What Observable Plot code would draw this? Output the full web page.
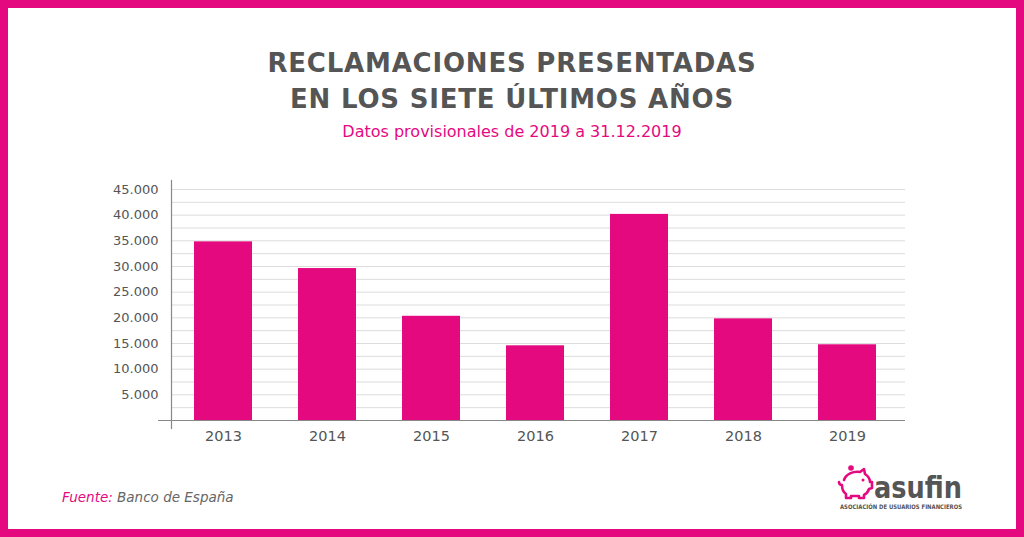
<!DOCTYPE html>
<html>
<head>
<meta charset="utf-8">
<script src="https://cdn.jsdelivr.net/npm/d3@7"></script>
<script src="https://cdn.jsdelivr.net/npm/@observablehq/plot@0.6"></script>
<style>
  html, body { margin: 0; padding: 0; background: #fff; }
  #page { position: relative; width: 1024px; height: 537px; box-sizing: border-box; border: 8px solid #e5097f; background: #fff; overflow: hidden; font-family: "DejaVu Sans", sans-serif; }
  .abs { position: absolute; }
  #title { left: 0; width: 1008px; top: 37px; text-align: center; color: #555; font-weight: bold; font-size: 26px; letter-spacing: 0.8px; line-height: 36px; }
  #subtitle { left: 0; width: 1008px; top: 114px; text-align: center; color: #e5097f; font-size: 16px; }
  #chart { left: -8px; top: 157px; width: 1024px; }
  #chart svg { max-width: none; }
  #source { left: 54px; top: 481px; font-style: italic; font-size: 13.5px; color: #666; }
  #source span { color: #e5097f; }
  #logo { left: 822px; top: 452px; width: 150px; height: 60px; overflow: visible; }
</style>
</head>
<body>
<div id="page">
  <div id="title" class="abs">RECLAMACIONES PRESENTADAS<br>EN LOS SIETE ÚLTIMOS AÑOS</div>
  <div id="subtitle" class="abs">Datos provisionales de 2019 a 31.12.2019</div>
  <div id="chart" class="abs"></div>
  <div id="source" class="abs"><span>Fuente:</span> Banco de España</div>
  <svg id="logo" class="abs" viewBox="0 0 150 60" width="150" height="60">
    <g fill="none" stroke="#e5097f" stroke-width="2.6" stroke-linejoin="round" stroke-linecap="round">
      <path d="M14,20 C16,14 23,11 30,12 L34,9 L35,14 C38,16 40,19 40,22 L42,22 L42,28 L39,29 C38,32 36,34 34,35 L34,38 L29,38 L29,36 L21,36 L21,38 L16,38 L16,34 C13,32 12,29 12,25 C10,25 9,24 9,22"/>
    </g>
    <circle cx="21" cy="8" r="2.8" fill="#e5097f"/>
    <circle cx="33" cy="20" r="1.5" fill="#e5097f"/>
    <text x="44" y="38" font-family="'DejaVu Sans', sans-serif" font-weight="bold" font-size="30" fill="#555" textLength="88" lengthAdjust="spacingAndGlyphs">asufin</text>
    <text x="10" y="49" font-family="'DejaVu Sans Condensed', 'DejaVu Sans', sans-serif" font-weight="bold" font-size="6.2" fill="#555" textLength="122" lengthAdjust="spacingAndGlyphs">ASOCIACIÓN DE USUARIOS FINANCIEROS</text>
  </svg>
</div>
<script>
const years = ["2013", "2014", "2015", "2016", "2017", "2018", "2019"];
const reclamaciones = [34800, 29600, 20300, 14550, 40150, 19800, 14750];
const yLabelTicks = [5000, 10000, 15000, 20000, 25000, 30000, 35000, 40000, 45000];
const gridTicks = [0, 2500, 5000, 7500, 10000, 12500, 15000, 17500, 20000, 22500, 25000, 27500, 30000, 32500, 35000, 37500, 40000, 42500, 45000];

const data = years.map((y, i) => ({year: y, value: reclamaciones[i]}));
const fmt = d => d3.format(",")(d).replace(/,/g, ".");

// SVG placed at page y = 165
const top0 = 165;
const plot = Plot.plot({
  width: 1024,
  height: 290,
  marginTop: 180 - top0,
  marginBottom: 290 - (428 - top0),
  marginLeft: 171,
  marginRight: 1024 - 905,
  style: { fontFamily: "'DejaVu Sans', sans-serif", fontSize: "12.5px", color: "#555", background: "transparent" },
  x: { domain: years, range: [171, 899], paddingInner: 0.44, paddingOuter: 0.22, label: null },
  y: { domain: [0, 45000], range: [420 - top0, 189 - top0], label: null },
  marks: [
    Plot.gridY(gridTicks, { stroke: "#dcdcdc", strokeOpacity: 1 }),
    Plot.barY(data, { x: "year", y: "value", fill: "#e5097f" }),
    Plot.frame({ anchor: "left", stroke: "#888", strokeWidth: 1.2 }),
    Plot.ruleY([0], { stroke: "#888", strokeWidth: 1.2, insetLeft: -13 }),
    Plot.axisY({ ticks: yLabelTicks, tickFormat: fmt, tickSize: 0, tickPadding: 13, label: null, fill: "#555", fontSize: 13 }),
    Plot.axisX({ tickSize: 0, tickPadding: 2, label: null, fontSize: 14.5, fill: "#555" })
  ]
});
document.getElementById("chart").appendChild(plot);
</script>
</body>
</html>
